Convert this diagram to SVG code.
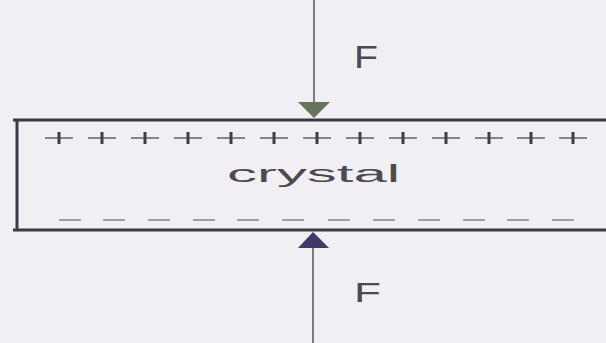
<svg xmlns="http://www.w3.org/2000/svg" xmlns:xlink="http://www.w3.org/1999/xlink" width="606" height="343" viewBox="0 0 606 343">
  <style>
    .edge { stroke: #3a3a44; stroke-width: 3; fill: none; }
    .shaft { stroke: #55555c; stroke-width: 1.5; fill: none; }
    .lbl { font-family: "Liberation Sans", Arial, sans-serif; fill: #4a4a50; }
    .minus { stroke: #a09ea6; stroke-width: 2; }
  </style>
  <defs>
    <g id="plus">
      <line x1="-14" y1="0" x2="14" y2="0" stroke="#6a6a70" stroke-width="1.6"/>
      <line x1="0" y1="-6" x2="0" y2="6" stroke="#3e3e46" stroke-width="3"/>
    </g>
    <line id="minus" class="minus" x1="-11" y1="0" x2="11" y2="0"/>
  </defs>
  <rect x="0" y="0" width="606" height="343" fill="#f1eff4"/>

  <g id="crystal">
    <line class="edge" x1="13" y1="120" x2="606" y2="120"/>
    <line class="edge" x1="13" y1="230" x2="606" y2="230"/>
    <line class="edge" x1="17" y1="119" x2="17" y2="231"/>
    <g id="charges-plus">
      <use xlink:href="#plus" x="59" y="138"/>
      <use xlink:href="#plus" x="102" y="138"/>
      <use xlink:href="#plus" x="145" y="138"/>
      <use xlink:href="#plus" x="188" y="138"/>
      <use xlink:href="#plus" x="231" y="138"/>
      <use xlink:href="#plus" x="274" y="138"/>
      <use xlink:href="#plus" x="317" y="138"/>
      <use xlink:href="#plus" x="360" y="138"/>
      <use xlink:href="#plus" x="403" y="138"/>
      <use xlink:href="#plus" x="446" y="138"/>
      <use xlink:href="#plus" x="489" y="138"/>
      <use xlink:href="#plus" x="531" y="138"/>
      <use xlink:href="#plus" x="573" y="138"/>
    </g>
    <g id="charges-minus">
      <use xlink:href="#minus" x="70" y="220"/>
      <use xlink:href="#minus" x="114" y="220"/>
      <use xlink:href="#minus" x="159" y="220"/>
      <use xlink:href="#minus" x="204" y="220"/>
      <use xlink:href="#minus" x="248" y="220"/>
      <use xlink:href="#minus" x="293" y="220"/>
      <use xlink:href="#minus" x="339" y="220"/>
      <use xlink:href="#minus" x="384" y="220"/>
      <use xlink:href="#minus" x="429" y="220"/>
      <use xlink:href="#minus" x="474" y="220"/>
      <use xlink:href="#minus" x="518" y="220"/>
      <use xlink:href="#minus" x="563" y="220"/>
    </g>
    <text class="lbl" x="227" y="182" font-size="23" textLength="173" lengthAdjust="spacingAndGlyphs">crystal</text>
  </g>

  <g id="connectors">
    <g id="force-top">
      <line class="shaft" x1="314" y1="0" x2="314" y2="104"/>
      <polygon points="298,102 330,102 314,118" fill="#66745a"/>
    </g>
    <g id="force-bottom">
      <line class="shaft" x1="313" y1="246" x2="313" y2="343"/>
      <polygon points="298,248 329,248 313,232" fill="#403a6a"/>
    </g>
  </g>

  <g id="label-top-F">
    <text class="lbl" x="354" y="68" font-size="31" textLength="24" lengthAdjust="spacingAndGlyphs">F</text>
  </g>
  <g id="label-bottom-F">
    <text class="lbl" x="354" y="302" font-size="27" textLength="27" lengthAdjust="spacingAndGlyphs">F</text>
  </g>
</svg>
